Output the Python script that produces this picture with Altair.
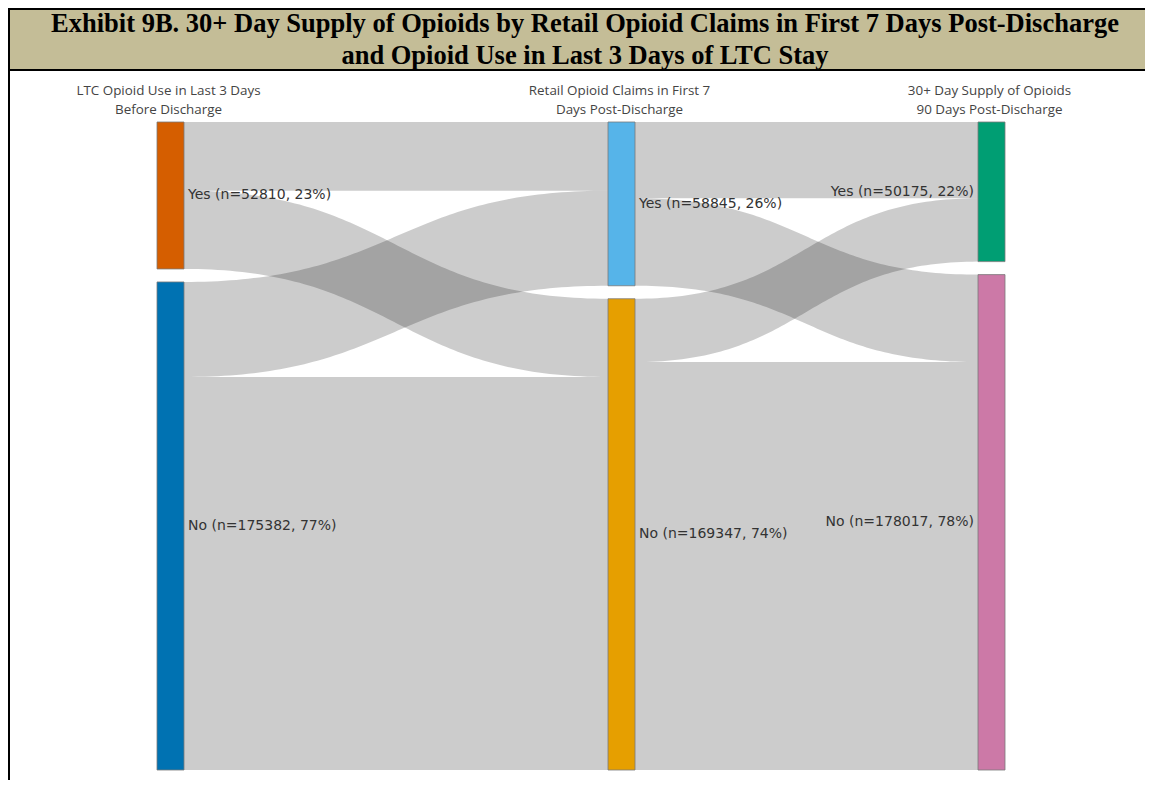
import numpy as np
import pandas as pd
import altair as alt

# ---------------- data ----------------
title_lines = [
    "Exhibit 9B. 30+ Day Supply of Opioids by Retail Opioid Claims in First 7 Days Post-Discharge",
    "and Opioid Use in Last 3 Days of LTC Stay",
]
stage_titles = [
    ["LTC Opioid Use in Last 3 Days", "Before Discharge"],
    ["Retail Opioid Claims in First 7", "Days Post-Discharge"],
    ["30+ Day Supply of Opioids", "90 Days Post-Discharge"],
]
categories = ["Yes", "No"]
node_counts = [[52810, 175382], [58845, 169347], [50175, 178017]]
# flows[source category][target category]
flows_1_2 = [[24690, 28120], [34155, 141227]]
flows_2_3 = [[27420, 31425], [22755, 146592]]
node_colors = [["#D55E00", "#0072B2"], ["#56B4E9", "#E69F00"], ["#009E73", "#CC79A7"]]

# ---------------- layout ----------------
W, H = 1137, 772
col_x = [149, 600, 970]
node_w = 27
y_top, y_bot = 114, 762
total = sum(node_counts[0])
gap = total * 13.0 / 635.0
ydom = [0, total + gap]

xs = alt.Scale(domain=[0, W], range=[0, W], nice=False, zero=False)
ys = alt.Scale(domain=ydom, range=[y_top, y_bot], nice=False, zero=False)

# nodes
node_rows = []
node_y0 = []
for s in range(3):
    off = 0.0
    tops = []
    for c in range(2):
        n = node_counts[s][c]
        pct = round(100.0 * n / sum(node_counts[s]))
        node_rows.append(dict(
            stage=s, cat=categories[c], y0=off, y1=off + n, ym=off + n / 2.0,
            x0=col_x[s], x1=col_x[s] + node_w,
            color=node_colors[s][c],
            label=f"{categories[c]} (n={n}, {pct}%)",
            lx=(col_x[s] + node_w + 4) if s < 2 else (col_x[s] - 4),
        ))
        tops.append(off)
        off += n + gap
    node_y0.append(tops)
nodes = pd.DataFrame(node_rows)

# links
link_rows = []
t = np.linspace(0, 1, 90)
for s, flows in enumerate([flows_1_2, flows_2_3]):
    src_off = list(node_y0[s])
    tgt_off = list(node_y0[s + 1])
    x0 = col_x[s] + node_w
    x1 = col_x[s + 1]
    xm = (x0 + x1) / 2.0
    for i in range(2):
        for j in range(2):
            v = flows[i][j]
            ys0, yt0 = src_off[i], tgt_off[j]
            src_off[i] += v
            tgt_off[j] += v
            bx = (1 - t) ** 3 * x0 + 3 * (1 - t) ** 2 * t * xm + 3 * (1 - t) * t ** 2 * xm + t ** 3 * x1
            sm = 3 * t ** 2 - 2 * t ** 3
            for k in range(len(t)):
                link_rows.append(dict(
                    link=f"{s}-{i}-{j}", x=bx[k],
                    top=ys0 + (yt0 - ys0) * sm[k],
                    bot=ys0 + v + (yt0 - ys0) * sm[k],
                ))
links = pd.DataFrame(link_rows)

# headers
hdr_rows = []
for s in range(3):
    for li, line in enumerate(stage_titles[s]):
        hdr_rows.append(dict(x=col_x[s] + node_w / 2.0 - 2, line=li, text=line))
headers = pd.DataFrame(hdr_rows)

one = pd.DataFrame({"a": [0]})

# ---------------- layers ----------------
title_box = alt.Chart(one).mark_rect(
    fill="#C4BD97", stroke="black", strokeWidth=2
).encode(x=alt.value(1), x2=alt.value(W + 20), y=alt.value(1), y2=alt.value(62))

left_border = alt.Chart(one).mark_rule(color="black", strokeWidth=2).encode(
    x=alt.value(1), y=alt.value(0), y2=alt.value(H)
)

title_df = pd.DataFrame({"text": title_lines, "row": [0, 1]})
title_text = alt.Chart(title_df).mark_text(
    font="Liberation Serif", fontWeight="bold", fontSize=26.5, color="black",
    baseline="alphabetic", align="center"
).encode(
    x=alt.value(577),
    y=alt.Y("row:Q", scale=alt.Scale(domain=[0, 1], range=[24, 56]), axis=None),
    text="text:N",
)

link_layer = alt.Chart(links).mark_area(color="black", opacity=0.2).encode(
    x=alt.X("x:Q", scale=xs, axis=None),
    y=alt.Y("top:Q", scale=ys, axis=None),
    y2="bot:Q",
    detail="link:N",
)

node_layer = alt.Chart(nodes).mark_rect(stroke="#7a7a7a", strokeWidth=0.8).encode(
    x=alt.X("x0:Q", scale=xs, axis=None),
    x2="x1:Q",
    y=alt.Y("y0:Q", scale=ys, axis=None),
    y2="y1:Q",
    fill=alt.Fill("color:N", scale=None),
)

lbl_common = dict(font="DejaVu Sans", fontSize=14, color="#333333", baseline="middle")
label_left = alt.Chart(nodes).transform_filter("datum.stage < 2").mark_text(
    align="left", **lbl_common
).encode(
    x=alt.X("lx:Q", scale=xs, axis=None),
    y=alt.Y("ym:Q", scale=ys, axis=None),
    text="label:N",
)
label_right = alt.Chart(nodes).transform_filter("datum.stage == 2").mark_text(
    align="right", **lbl_common
).encode(
    x=alt.X("lx:Q", scale=xs, axis=None),
    y=alt.Y("ym:Q", scale=ys, axis=None),
    text="label:N",
)

header_layer = alt.Chart(headers).mark_text(
    font="Open Sans", fontSize=13.4, color="#444444", baseline="middle", align="center"
).encode(
    x=alt.X("x:Q", scale=xs, axis=None),
    y=alt.Y("line:Q", scale=alt.Scale(domain=[0, 1], range=[83, 102]), axis=None),
    text="text:N",
)

chart = alt.layer(
    title_box, left_border, title_text, link_layer, node_layer,
    label_left, label_right, header_layer
).resolve_scale(y="independent").properties(
    width=W, height=H, padding=0, autosize=alt.AutoSizeParams(type="none")
).configure_view(strokeWidth=0)

chart.save("out.html", embed_options={"renderer": "svg", "actions": False})
